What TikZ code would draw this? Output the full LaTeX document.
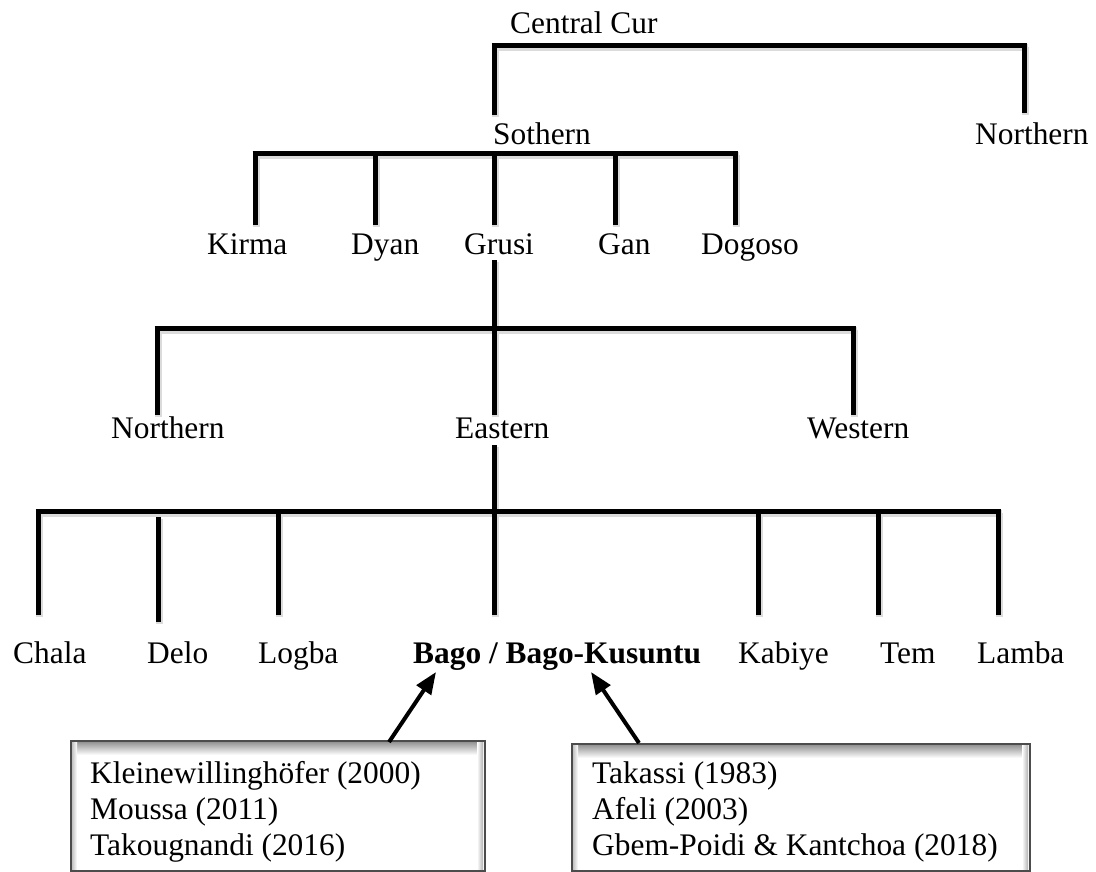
\documentclass[tikz,border=0pt]{standalone}
\usepackage{fontspec}
\setmainfont{Liberation Serif}
\usetikzlibrary{arrows.meta}
\begin{document}
\begin{tikzpicture}[x=1pt,y=-1pt,
  lbl/.style={inner sep=0pt, anchor=base west, font=\fontsize{31.4}{36}\selectfont},
  boldlbl/.style={lbl, font=\fontsize{31.4}{36}\selectfont\bfseries},
  brk/.style={line width=5pt, black},
  brkshadow/.style={line width=7pt, black!14, transform canvas={shift={(1.8pt,-2.4pt)}}},
  pointer/.style={line width=4pt, -{Triangle[length=22pt,width=17pt]}},
  refbox/.style={draw=black!70, line width=1.5pt, inner sep=0pt, anchor=north west},
  treelines/.style={insert path={
    (L1a)--(L1b) (v-so|-L1a)--(v-so) (v-no|-L1a)--(v-no)
    (L2a)--(L2b) (v-ki|-L2a)--(v-ki) (v-dy|-L2a)--(v-dy) (v-gr|-L2a)--(v-gr)
    (v-ga|-L2a)--(v-ga) (v-do|-L2a)--(v-do)
    (g-top)--(g-top|-L3a)
    (L3a)--(L3b) (v-nn|-L3a)--(v-nn) (v-ea|-L3a)--(v-ea) (v-we|-L3a)--(v-we)
    (e-top)--(e-top|-L4a)
    (L4a)--(L4b) (v-ch|-L4a)--(v-ch) (d-top)--(v-de) (v-lo|-L4a)--(v-lo)
    (v-ba|-L4a)--(v-ba) (v-ka|-L4a)--(v-ka) (v-te|-L4a)--(v-te) (v-la|-L4a)--(v-la)
  }}
]
\useasboundingbox (0,0) rectangle (1096,871);
\fill[white] (0,0) rectangle (1096,871);

% bracket coordinates
\coordinate (L1a) at (491.5,45);  \coordinate (L1b) at (1026.5,45);
\coordinate (v-so) at (494,115);  \coordinate (v-no) at (1024,113);
\coordinate (L2a) at (252.5,153); \coordinate (L2b) at (737.5,153);
\coordinate (v-ki) at (255,225);  \coordinate (v-dy) at (375,225);
\coordinate (v-gr) at (494,225);  \coordinate (v-ga) at (615,225);
\coordinate (v-do) at (735,225);
\coordinate (g-top) at (494,260);
\coordinate (L3a) at (154.5,328); \coordinate (L3b) at (855.5,328);
\coordinate (v-nn) at (157,415);  \coordinate (v-ea) at (494,415);
\coordinate (v-we) at (853,415);
\coordinate (e-top) at (494,445);
\coordinate (L4a) at (35.5,511);  \coordinate (L4b) at (1000.5,511);
\coordinate (v-ch) at (38,615);   \coordinate (d-top) at (158,517);
\coordinate (v-de) at (158,622);  \coordinate (v-lo) at (278,615);
\coordinate (v-ba) at (494,615);  \coordinate (v-ka) at (758,615);
\coordinate (v-te) at (878,615);  \coordinate (v-la) at (998,615);

\draw[brkshadow, treelines];
\draw[brk, treelines];

% labels
\node[lbl] (central) at (510,33) {Central Cur};
\node[lbl] (sothern) at (493,144) {Sothern};
\node[lbl] (northern1) at (975,144) {Northern};
\node[lbl] (kirma) at (207,254) {Kirma};
\node[lbl] (dyan) at (351,254) {Dyan};
\node[lbl] (grusi) at (464,254) {Grusi};
\node[lbl] (gan) at (598,254) {Gan};
\node[lbl] (dogoso) at (701,254) {Dogoso};
\node[lbl] (northern2) at (111,438) {Northern};
\node[lbl] (eastern) at (455,438) {Eastern};
\node[lbl] (western) at (807,438) {Western};
\node[lbl] (chala) at (13,663) {Chala};
\node[lbl] (delo) at (147,663) {Delo};
\node[lbl] (logba) at (258,663) {Logba};
\node[boldlbl] (bago) at (413,663) {Bago / Bago-Kusuntu};
\node[lbl] (kabiye) at (738,663) {Kabiye};
\node[lbl] (tem) at (880,663) {Tem};
\node[lbl] (lamba) at (977,663) {Lamba};

% reference boxes (inner shadow, then frame)
\shade[top color=black!45, bottom color=white] (71,741) rectangle (483,755);
\shade[left color=black!28, right color=white] (71,741) rectangle (77,870);
\shade[left color=white, right color=black!30] (477,741) rectangle (483,870);
\node[refbox, minimum width=414pt, minimum height=130pt] (lbox) at (70,740) {};
\shade[top color=black!45, bottom color=white] (572,744) rectangle (1028,758);
\shade[left color=black!28, right color=white] (572,744) rectangle (578,870);
\shade[left color=white, right color=black!30] (1022,744) rectangle (1028,870);
\node[refbox, minimum width=458pt, minimum height=127pt] (rbox) at (571,743) {};

\node[lbl] (l1) at (90,783) {Kleinewillinghöfer (2000)};
\node[lbl] (l2) at (90,819) {Moussa (2011)};
\node[lbl] (l3) at (90,855) {Takougnandi (2016)};
\node[lbl] (r1) at (592,783) {Takassi (1983)};
\node[lbl] (r2) at (592,819) {Afeli (2003)};
\node[lbl] (r3) at (592,855) {Gbem-Poidi \& Kantchoa (2018)};

% arrows
\coordinate (la-tail) at (389,742); \coordinate (la-tip) at (436,672);
\coordinate (ra-tail) at (639,743); \coordinate (ra-tip) at (591,672);
\draw[pointer] (la-tail) -- (la-tip);
\draw[pointer] (ra-tail) -- (ra-tip);
\end{tikzpicture}
\end{document}
